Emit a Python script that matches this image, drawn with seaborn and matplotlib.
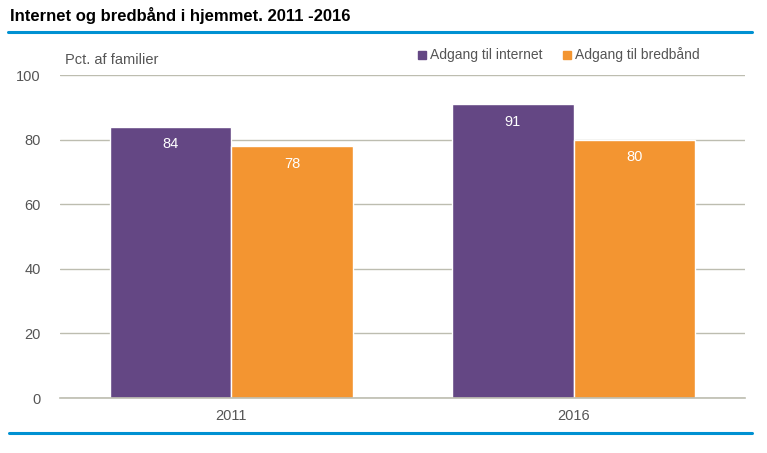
import matplotlib
matplotlib.use("Agg")
import matplotlib.pyplot as plt
from matplotlib.lines import Line2D
import seaborn as sns
import pandas as pd

years = ["2011", "2016"]
series = ["Adgang til internet", "Adgang til bredbånd"]
internet = [84, 91]
bredbaand = [78, 80]
yticks = [0, 20, 40, 60, 80, 100]

df = pd.DataFrame({
    "year": years * 2,
    "series": [series[0]] * 2 + [series[1]] * 2,
    "value": internet + bredbaand,
})

sns.set_theme(style="white")
plt.rcParams['font.family'] = ['Liberation Sans Narrow', 'Liberation Sans', 'DejaVu Sans']

fig = plt.figure(figsize=(7.67, 4.53), dpi=100)
ax = fig.add_axes([60/767, 1-398/453, 685/767, (398-75)/453])

palette = ["#644784", "#F39531"]
sns.barplot(data=df, x="year", y="value", hue="series", palette=palette,
            width=0.71, ax=ax, edgecolor="white", linewidth=1, saturation=1,
            legend=False)

ax.set_ylim(0, 100)
ax.set_xlim(-0.5, 1.5)
ax.set_yticks(yticks)
ax.grid(axis="y", color="#BDBDB0", linewidth=1)
ax.set_axisbelow(True)
for s in ["top", "right", "left"]:
    ax.spines[s].set_visible(False)
ax.spines["bottom"].set_color("#BDBDB0")
ax.spines["bottom"].set_linewidth(1.2)
ax.tick_params(axis="both", length=0, labelsize=10.5, colors="#555555", pad=8)
ax.tick_params(axis="y", pad=14)
ax.set_xlabel("")
ax.set_ylabel("")

for cont in ax.containers:
    for bar in cont:
        h = bar.get_height()
        ax.text(bar.get_x() + bar.get_width()/2, h - 5.5, f"{h:.0f}",
                ha="center", va="center", color="white", fontsize=10.5)

ax.text(65/767, 1-60/453, "Pct. af familier", transform=fig.transFigure,
        ha="left", va="center", color="#555555", fontsize=10.5)

handles = [Line2D([], [], marker="s", linestyle="", color=c, markersize=6) for c in palette]
fig.legend(handles, series, loc="center right", bbox_to_anchor=(712/767, 1-55/453),
           ncol=2, frameon=False, fontsize=10, handletextpad=0.1, columnspacing=1.2,
           labelcolor="#555555", handlelength=1)

fig.text(10/767, 1-15/453, "Internet og bredbånd i hjemmet. 2011 -2016",
         ha="left", va="center", fontsize=12, fontweight="bold", color="black")

blue = "#0091D2"
fig.add_artist(Line2D([8/767, 752/767], [1-32/453, 1-32/453], color=blue, linewidth=2.2))
fig.add_artist(Line2D([9/767, 752/767], [1-433/453, 1-433/453], color=blue, linewidth=2.2))

fig.savefig("out.png", dpi=100)
